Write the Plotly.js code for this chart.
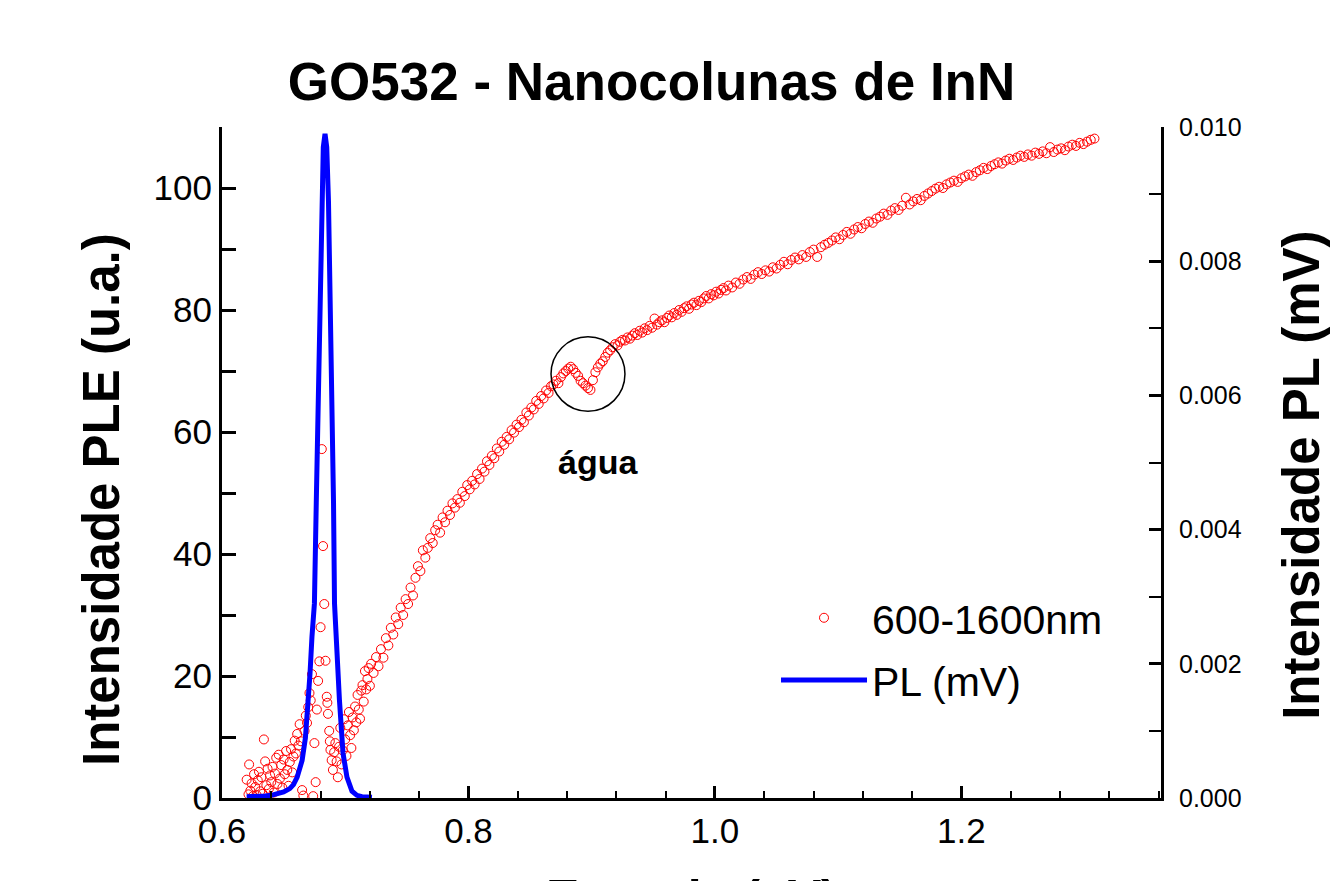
<!DOCTYPE html>
<html>
<head>
<meta charset="utf-8">
<script src="https://cdn.plot.ly/plotly-3.0.1.min.js"></script>
<style>html,body{margin:0;padding:0;background:#fff;}#chart{width:1333px;height:881px;}</style>
</head>
<body>
<div id="chart"></div>
<script>
// PLE spectrum (600-1600nm), energy in eV
const pleEnergy = [
0.620,0.6215,0.622,0.623,0.624,0.625,0.626,0.627,0.628,0.629,
0.630,0.631,0.632,0.633,0.634,0.635,0.636,0.637,0.638,0.639,
0.640,0.641,0.642,0.643,0.644,0.645,0.646,0.647,0.648,0.649,
0.650,0.651,0.652,0.653,0.654,0.655,0.656,0.657,0.658,0.659,
0.660,0.661,0.662,0.663,0.664,0.665,0.666,0.667,0.668,0.669,
0.670,0.671,0.672,0.673,0.674,0.675,0.676,0.677,0.678,0.679,
0.680,0.681,0.682,0.683,0.684,0.685,0.6855,0.686,0.687,0.6875,
0.688,0.689,0.690,0.691,0.692,0.693,0.694,0.695,0.696,0.697,
0.698,0.699,0.700,0.701,0.702,0.703,0.704,0.705,0.706,0.707,
0.708,0.709,0.710,0.711,0.712,0.713,0.714,0.715,0.716,0.717,
0.718,0.719,0.720,0.721,0.723,0.725,0.727,0.729,0.731,0.733,
0.735,0.737,0.739,0.741,0.743,0.745,0.747,0.749,0.751,0.753,
0.755,0.757,0.759,0.761,0.763,0.765,0.767,0.769,0.771,0.773,
0.775,0.777,0.779,0.781,0.783,0.785,0.787,0.789,0.791,0.793,
0.795,0.797,0.799,0.801,0.803,0.805,0.807,0.809,0.811,0.813,
0.815,0.817,0.819,0.821,0.823,0.825,0.827,0.829,0.831,0.833,
0.835,0.837,0.839,0.841,0.843,0.845,0.847,0.849,0.851,0.853,
0.855,0.857,0.859,0.861,0.863,0.865,0.867,0.869,0.871,0.873,
0.875,0.877,0.879,0.881,0.883,0.885,0.887,0.889,0.891,0.893,
0.895,0.897,0.899,0.901,0.903,0.905,0.907,0.909,0.911,0.913,
0.915,0.917,0.919,0.921,0.923,0.925,0.927,0.929,0.931,0.933,
0.935,0.937,0.939,0.941,0.943,0.945,0.947,0.949,0.951,0.953,
0.955,0.957,0.959,0.961,0.963,0.965,0.967,0.969,0.971,0.973,
0.975,0.977,0.979,0.981,0.983,0.985,0.987,0.989,0.991,0.993,
0.995,0.997,0.999,1.001,1.003,1.005,1.007,1.009,1.011,1.014,
1.017,1.020,1.023,1.026,1.029,1.032,1.035,1.038,1.041,1.044,
1.047,1.050,1.053,1.056,1.059,1.062,1.065,1.068,1.071,1.074,
1.077,1.080,1.083,1.086,1.089,1.092,1.095,1.098,1.101,1.104,
1.107,1.110,1.113,1.116,1.119,1.122,1.125,1.128,1.131,1.134,
1.137,1.140,1.143,1.146,1.149,1.152,1.155,1.158,1.161,1.164,
1.167,1.170,1.173,1.176,1.179,1.182,1.185,1.188,1.191,1.194,
1.197,1.200,1.203,1.206,1.209,1.212,1.215,1.218,1.221,1.224,
1.227,1.230,1.233,1.236,1.239,1.242,1.245,1.248,1.251,1.254,
1.257,1.260,1.263,1.266,1.269,1.272,1.275,1.278,1.281,1.284,
1.287,1.290,1.293,1.296,1.299,1.302,1.305,1.308
];
const pleIntensity = [
3.0,0.6,5.5,1.2,2.4,0.3,3.9,1.8,0.5,2.9,
4.3,1.1,3.4,0.7,9.6,6.0,2.1,4.8,1.5,3.7,
2.6,5.1,0.9,4.0,6.6,2.3,7.1,3.2,5.4,1.7,
6.3,3.9,7.7,4.6,2.0,5.9,8.0,4.2,6.8,9.4,
7.3,10.5,8.6,12.1,9.3,1.3,0.4,11.0,13.5,12.3,
14.9,17.2,16.0,20.3,0.3,9.0,2.6,14.5,19.2,22.4,
28.0,57.2,41.3,31.8,22.5,16.6,15.6,13.8,11.0,9.3,
7.9,6.2,4.6,7.5,9.0,6.0,3.4,8.4,11.5,5.5,
7.8,12.9,9.6,6.9,11.9,14.1,10.3,8.2,13.2,11.1,
15.0,12.4,16.9,14.5,13.0,17.6,18.5,15.8,20.8,17.8,
19.5,21.3,18.4,22.0,20.5,23.1,21.6,24.4,23.0,26.2,
25.0,27.9,26.8,29.6,28.5,31.2,30.0,32.6,31.8,34.5,
33.2,36.1,38.0,37.2,40.6,39.4,41.0,42.6,41.8,43.9,
44.8,43.5,46.0,45.2,47.1,46.4,48.3,47.6,49.0,48.4,
50.2,49.5,51.3,50.6,52.0,51.4,53.1,52.3,54.0,53.5,
55.2,54.6,56.1,55.7,57.3,56.8,58.4,57.9,59.2,58.8,
60.3,59.9,61.2,60.8,62.0,61.6,63.2,62.7,64.0,63.7,
65.1,64.6,65.9,65.5,66.8,66.4,67.5,67.8,68.4,68.0,
69.0,69.6,70.0,70.4,70.7,70.3,69.7,69.2,68.4,68.0,
67.6,67.2,66.9,68.5,69.8,70.6,71.2,71.6,72.3,73.0,
73.4,73.9,74.4,74.2,74.8,75.1,75.0,75.5,75.3,75.8,
76.2,75.9,76.6,76.3,77.0,76.7,77.4,77.1,78.6,77.6,
78.0,78.3,78.0,78.7,79.1,78.8,79.5,79.2,80.0,79.7,
80.3,80.6,80.2,80.9,81.2,80.8,81.5,81.3,81.9,82.3,
81.9,82.6,82.4,83.0,82.7,83.3,83.6,83.2,84.0,83.7,
84.5,84.3,85.0,85.4,85.1,85.8,86.2,85.9,86.5,86.3,
87.0,86.8,87.4,87.9,87.5,88.2,88.6,88.3,89.0,88.7,
89.5,89.9,88.7,90.3,90.7,91.0,91.4,91.9,91.6,92.3,
92.8,92.5,93.2,93.6,93.4,94.1,94.5,94.3,95.0,95.3,
95.8,95.6,96.3,96.7,96.4,97.1,98.4,97.3,97.8,98.2,
98.0,98.7,99.1,99.5,99.9,100.2,100.0,100.6,100.9,101.2,
101.0,101.6,101.9,102.2,102.0,102.6,102.9,103.3,103.1,103.6,
103.9,104.2,104.0,104.5,104.8,104.6,105.0,105.3,105.1,105.5,
105.3,105.8,105.6,106.0,105.7,106.7,105.9,106.3,106.5,106.2,
106.8,107.1,106.9,107.4,107.2,107.6,107.9,108.1
];

// PL spectrum, energy in eV and signal in mV
const plEnergy = [
0.620,0.625,0.630,0.635,0.640,0.645,0.650,0.655,0.658,0.661,
0.665,0.6677,0.6698,0.6714,0.673,0.675,0.6765,0.678,0.6795,0.6807,
0.6822,0.6836,0.685,0.6864,0.688,0.6896,0.6905,0.6913,0.6935,0.6953,
0.6982,0.7014,0.7055,0.7095,0.7136,0.7177,0.7217
];
const plSignal = [
0.00002,0.00002,0.00003,0.00003,0.00004,0.00006,0.00009,0.00014,0.0002,0.00031,
0.00056,0.0009,0.00135,0.00185,0.0024,0.0029,0.0044,0.0059,0.0075,0.0089,
0.0097,0.0099,0.0097,0.0089,0.0074,0.0059,0.0044,0.0029,0.0020,0.00146,
0.00067,0.00031,0.0001,0.00004,0.00002,0.00001,0.00001
];

const chartTitle = 'GO532 - Nanocolunas de InN';
const xTitle = 'Energia (eV)';
const yLeftTitle = 'Intensidade PLE (u.a.)';
const yRightTitle = 'Intensidade PL (mV)';
const seriesNames = ['600-1600nm', 'PL (mV)'];
const noteText = 'água';

const FONT = 'Arial, "Liberation Sans", sans-serif';

const traces = [
  {
    x: pleEnergy, y: pleIntensity, name: seriesNames[0],
    type: 'scatter', mode: 'markers', yaxis: 'y', legendgroup: 'a',
    marker: {symbol: 'circle-open', size: 9, color: '#ff0000', line: {width: 1, color: '#ff0000'}}
  },
  {
    x: plEnergy, y: plSignal, name: seriesNames[1],
    type: 'scatter', mode: 'lines', yaxis: 'y2', legendgroup: 'b',
    line: {color: '#0000ff', width: 5}
  }
];

const layout = {
  width: 1333, height: 881,
  paper_bgcolor: '#ffffff', plot_bgcolor: '#ffffff',
  margin: {l: 222, r: 172, t: 127, b: 83, pad: 0},
  font: {family: FONT, color: '#000'},
  showlegend: true,
  title: {
    text: '<b>' + chartTitle + '</b>',
    font: {family: FONT, size: 53, color: '#000'},
    x: 0.4888, xref: 'container', xanchor: 'center',
    y: 0.908, yref: 'container', yanchor: 'middle'
  },
  xaxis: {
    range: [0.6, 1.362], showgrid: false, zeroline: false,
    showline: true, linecolor: '#000', linewidth: 3,
    ticks: 'inside', ticklen: 12, tickwidth: 3, tickcolor: '#000',
    dtick: 0.2, tick0: 0.6, tickformat: '.1f',
    tickfont: {family: FONT, size: 35, color: '#000'},
    minor: {dtick: 0.04, ticks: 'inside', ticklen: 7, tickwidth: 2, tickcolor: '#000'}
  },
  yaxis: {
    range: [0, 110], showgrid: false, zeroline: false,
    showline: true, linecolor: '#000', linewidth: 3,
    ticks: 'inside', ticklen: 14, tickwidth: 3, tickcolor: '#000',
    dtick: 20, tick0: 0,
    tickfont: {family: FONT, size: 35, color: '#000'},
    minor: {dtick: 10, ticks: 'inside', ticklen: 14, tickwidth: 3, tickcolor: '#000'}
  },
  yaxis2: {
    overlaying: 'y', side: 'right', anchor: 'x',
    range: [0, 0.010], showgrid: false, zeroline: false,
    showline: true, linecolor: '#000', linewidth: 3,
    ticks: 'inside', ticklen: 12, tickwidth: 3, tickcolor: '#000',
    dtick: 0.002, tick0: 0, tickformat: '.3f',
    ticklabelstandoff: 10,
    tickfont: {family: FONT, size: 25, color: '#000'},
    minor: {dtick: 0.001, ticks: 'inside', ticklen: 12, tickwidth: 2, tickcolor: '#000'}
  },
  legend: {
    x: 0.59, y: 0.318, xanchor: 'left', yanchor: 'top',
    bgcolor: 'rgba(0,0,0,0)', borderwidth: 0,
    font: {family: FONT, size: 41, color: '#000'},
    itemwidth: 86, traceorder: 'grouped', tracegroupgap: 6
  },
  shapes: [
    {type: 'circle', xref: 'x', yref: 'y', x0: 0.867, x1: 0.927, y0: 63.4, y1: 75.6,
     line: {color: '#000', width: 1.5}}
  ],
  annotations: [
    {text: '<b>' + noteText + '</b>', xref: 'x', yref: 'y', x: 0.905, y: 55.1,
     showarrow: false, font: {family: FONT, size: 34, color: '#000'}, xanchor: 'center', yanchor: 'middle'},
    {text: '<b>' + xTitle + '</b>', xref: 'paper', yref: 'paper', x: 0.5, y: -0.1045,
     showarrow: false, font: {family: FONT, size: 50, color: '#000'}, xanchor: 'center', yanchor: 'top'},
    {text: '<b>' + yLeftTitle + '</b>', xref: 'paper', yref: 'paper', x: -0.1289, y: 0.4456,
     textangle: -90, showarrow: false, font: {family: FONT, size: 51, color: '#000'}, xanchor: 'center', yanchor: 'middle'},
    {text: '<b>' + yRightTitle + '</b>', xref: 'paper', yref: 'paper', x: 1.150, y: 0.4814,
     textangle: -90, showarrow: false, font: {family: FONT, size: 51, color: '#000'}, xanchor: 'center', yanchor: 'middle'}
  ]
};

Plotly.newPlot('chart', traces, layout, {displayModeBar: false, staticPlot: true});
</script>
</body>
</html>
